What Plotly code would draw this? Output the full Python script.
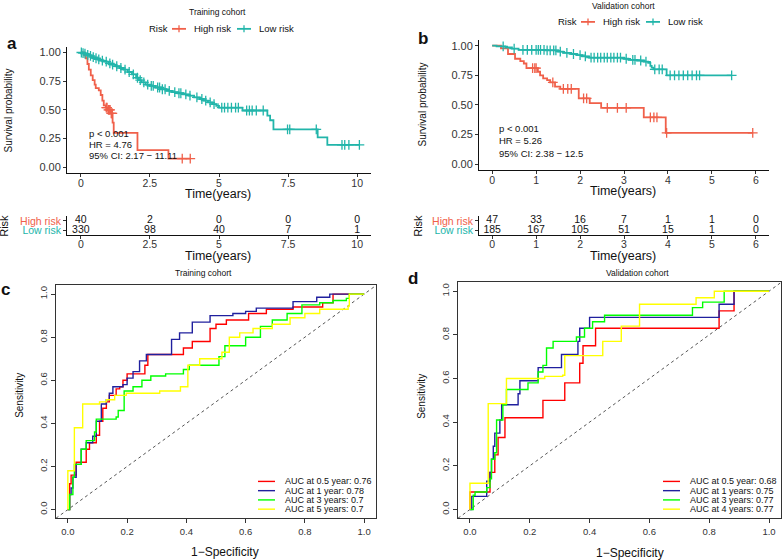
import plotly.graph_objects as go

W, H = 783, 560
RED_KM = "#F0604A"
CYAN_KM = "#22B5AA"

# ---- panel a: training cohort, Kaplan-Meier (event times / survival after event)
a_high_t = [0.12, 0.18, 0.24, 0.29, 0.36, 0.43, 0.50, 0.54, 0.65, 0.72, 0.78, 0.83,
            0.90, 0.97, 1.08, 1.15, 1.19, 2.05, 3.17]
a_high_s = [0.975, 0.95, 0.90, 0.85, 0.80, 0.76, 0.72, 0.69, 0.67, 0.63, 0.58, 0.54,
            0.52, 0.50, 0.47, 0.39, 0.30, 0.15, 0.075]
a_high_cens = [0.92, 0.95, 1.00, 1.03, 1.06, 1.10, 1.12, 1.14, 3.67, 3.96]

a_low_t = [0.05, 0.1, 0.2, 0.3, 0.4, 0.5, 0.6, 0.7, 0.85, 1.0, 1.1, 1.25, 1.4, 1.55,
           1.7, 1.85, 2.0, 2.1, 2.2, 2.35, 2.5, 2.7, 2.9, 3.1, 3.3, 3.5, 3.7, 3.9,
           4.1, 4.3, 4.45, 4.6, 4.75, 4.9, 5.0, 5.85, 6.75, 6.85, 6.97, 8.57, 8.92]
a_low_s = [0.995, 0.99, 0.98, 0.97, 0.96, 0.95, 0.94, 0.93, 0.92, 0.905, 0.895, 0.88,
           0.865, 0.85, 0.83, 0.81, 0.78, 0.76, 0.74, 0.72, 0.71, 0.695, 0.68, 0.665,
           0.655, 0.645, 0.635, 0.625, 0.61, 0.595, 0.58, 0.565, 0.55, 0.535, 0.52,
           0.495, 0.45, 0.41, 0.33, 0.26, 0.195]
a_low_cens = [0.02, 0.08, 0.15, 0.25, 0.35, 0.45, 0.55, 0.65, 0.78, 0.92, 1.05, 1.15,
              1.3, 1.45, 1.6, 1.75, 1.9, 2.05, 2.15, 2.28, 2.42, 2.55, 2.62, 2.78,
              2.85, 2.95, 3.05, 3.2, 3.4, 3.55, 3.62, 3.8, 3.95, 4.2, 4.38, 4.52,
              4.68, 4.82, 5.1, 5.2, 5.32, 5.45, 5.6, 5.7, 6.0, 6.1, 6.2, 6.35, 6.6,
              7.48, 7.56, 8.52, 9.45, 9.55, 9.7, 10.08]

# ---- panel b: validation cohort, Kaplan-Meier
b_high_t = [0.2, 0.36, 0.52, 0.64, 0.72, 0.78, 1.04, 1.09, 1.16, 1.25, 1.32, 1.43,
            1.55, 1.97, 2.22, 2.48, 3.45, 3.95]
b_high_s = [0.978, 0.93, 0.89, 0.87, 0.85, 0.81, 0.78, 0.75, 0.725, 0.71, 0.69, 0.655,
            0.635, 0.555, 0.515, 0.475, 0.395, 0.265]
b_high_cens = [0.92, 0.97, 1.0, 1.38, 1.62, 1.72, 1.8, 2.08, 2.15, 2.62, 2.85, 3.05,
               3.6, 3.68, 3.75, 3.97, 5.93]

b_low_t = [0.1, 0.3, 0.45, 0.6, 1.2, 1.5, 1.62, 1.8, 1.93, 2.05, 2.2, 3.0, 3.1, 3.3,
           3.45, 3.55, 3.6, 3.63, 3.67, 3.97]
b_low_s = [0.995, 0.985, 0.975, 0.965, 0.96, 0.95, 0.94, 0.93, 0.92, 0.91, 0.90, 0.89,
           0.88, 0.875, 0.865, 0.855, 0.83, 0.815, 0.80, 0.75]
b_low_cens = [0.25, 0.5, 0.7, 0.8, 0.9, 1.0, 1.05, 1.1, 1.18, 1.25, 1.32, 1.4, 1.45,
              1.55, 1.7, 1.85, 2.0, 2.12, 2.25, 2.32, 2.4, 2.47, 2.55, 2.62, 2.7, 2.77,
              2.85, 2.92, 3.05, 3.2, 3.25, 3.38, 3.5, 3.7, 3.8, 3.87, 4.05, 4.15, 4.25,
              4.35, 4.45, 4.55, 4.65, 4.72, 5.45]

# ---- numbers at risk
a_table_t = [0, 2.5, 5, 7.5, 10]
a_high_n = [40, 2, 0, 0, 0]
a_low_n = [330, 98, 40, 7, 1]
b_table_t = [0, 1, 2, 3, 4, 5, 6]
b_high_n = [47, 33, 16, 7, 1, 1, 0]
b_low_n = [185, 167, 105, 51, 15, 1, 0]

# ---- panel c: training cohort, time-dependent ROC
c_labels = ["0.5 year", "1 year", "3 years", "5 years"]
c_auc = ["0.76", "0.78", "0.7", "0.7"]
c_fpr = [
    [0, 0.006, 0.011, 0.028, 0.062, 0.073, 0.096, 0.107, 0.118, 0.13, 0.14, 0.163, 0.175,
     0.186, 0.2, 0.26, 0.27, 0.39, 0.42, 0.48, 0.50, 0.535, 0.61, 0.67, 0.76, 0.86, 0.895, 1.0],
    [0, 0.006, 0.011, 0.017, 0.028, 0.045, 0.062, 0.084, 0.096, 0.113, 0.13, 0.14, 0.152,
     0.186, 0.2, 0.22, 0.242, 0.265, 0.35, 0.377, 0.42, 0.48, 0.557, 0.6, 0.636, 0.76, 0.84,
     0.884, 1.0],
    [0, 0.006, 0.017, 0.022, 0.045, 0.062, 0.09, 0.096, 0.163, 0.17, 0.19, 0.22, 0.25, 0.28,
     0.33, 0.39, 0.41, 0.51, 0.53, 0.60, 0.65, 0.69, 0.74, 0.79, 0.85, 0.895, 0.94, 0.95, 1.0],
    [0, 0, 0.022, 0.05, 0.107, 0.13, 0.158, 0.197, 0.31, 0.38, 0.405, 0.405, 0.445, 0.52,
     0.545, 0.58, 0.625, 0.69, 0.75, 0.80, 0.85, 0.946, 0.95, 1.0],
]
c_tpr = [
    [0, 0.12, 0.16, 0.22, 0.28, 0.31, 0.345, 0.41, 0.47, 0.50, 0.53, 0.56, 0.57, 0.60, 0.63,
     0.67, 0.72, 0.75, 0.78, 0.84, 0.86, 0.88, 0.91, 0.93, 0.94, 0.96, 1.0, 1.0],
    [0, 0.07, 0.10, 0.15, 0.21, 0.28, 0.31, 0.34, 0.41, 0.49, 0.51, 0.54, 0.57, 0.58, 0.61,
     0.64, 0.69, 0.72, 0.79, 0.82, 0.87, 0.90, 0.91, 0.92, 0.935, 0.965, 0.985, 1.0, 1.0],
    [0, 0.07, 0.15, 0.21, 0.28, 0.32, 0.36, 0.42, 0.43, 0.46, 0.55, 0.57, 0.60, 0.62, 0.63,
     0.65, 0.67, 0.71, 0.76, 0.80, 0.85, 0.88, 0.91, 0.95, 0.96, 0.97, 0.98, 1.0, 1.0],
    [0, 0.18, 0.38, 0.49, 0.50, 0.51, 0.53, 0.54, 0.55, 0.57, 0.58, 0.67, 0.70, 0.73, 0.80,
     0.82, 0.84, 0.86, 0.89, 0.91, 0.93, 0.945, 1.0, 1.0],
]

# ---- panel d: validation cohort, time-dependent ROC
d_labels = ["0.5 year", "1 years", "3 years", "4 years"]
d_auc = ["0.68", "0.75", "0.77", "0.77"]
d_fpr = [
    [0, 0, 0.067, 0.083, 0.094, 0.117, 0.244, 0.317, 0.367, 0.378, 0.42, 0.833, 0.883, 1.0],
    [0, 0.006, 0.056, 0.067, 0.072, 0.078, 0.083, 0.1, 0.106, 0.161, 0.167, 0.228, 0.306,
     0.361, 0.367, 0.40, 0.833, 0.883, 1.0],
    [0, 0.011, 0.017, 0.056, 0.067, 0.072, 0.083, 0.089, 0.11, 0.122, 0.194, 0.228, 0.244,
     0.256, 0.278, 0.356, 0.383, 0.41, 0.45, 0.744, 0.778, 0.85, 1.0],
    [0, 0, 0.061, 0.122, 0.25, 0.31, 0.317, 0.444, 0.506, 0.567, 0.756, 0.817, 1.0],
]
d_tpr = [
    [0, 0.08, 0.17, 0.25, 0.33, 0.42, 0.50, 0.58, 0.67, 0.75, 0.83, 0.91, 1.0, 1.0],
    [0, 0.06, 0.13, 0.17, 0.23, 0.29, 0.35, 0.41, 0.48, 0.53, 0.59, 0.65, 0.71, 0.77, 0.83,
     0.88, 0.94, 1.0, 1.0],
    [0, 0.065, 0.08, 0.10, 0.14, 0.23, 0.26, 0.41, 0.48, 0.55, 0.58, 0.63, 0.66, 0.74, 0.77,
     0.79, 0.83, 0.86, 0.89, 0.925, 0.95, 1.0, 1.0],
    [0, 0.12, 0.485, 0.60, 0.61, 0.615, 0.705, 0.77, 0.84, 0.94, 0.97, 1.0, 1.0],
]
roc_colors = ["#FF0000", "#20209E", "#00FF00", "#FFFF00"]


def px(x):
    return x / W


def py(y):
    return 1 - y / H


def surv_at(t, ev_t, ev_s):
    s = 1.0
    for et, es in zip(ev_t, ev_s):
        if et <= t:
            s = es
    return s


def km_traces(ev_t, ev_s, cens, color, xa, ya):
    end = max(ev_t + cens)
    line = go.Scatter(
        x=[0] + ev_t + [end],
        y=[1] + ev_s + [surv_at(end, ev_t, ev_s)],
        mode="lines",
        line=dict(color=color, width=1.8, shape="hv"),
        xaxis=xa, yaxis=ya, showlegend=False, hoverinfo="skip",
    )
    marks = go.Scatter(
        x=cens, y=[surv_at(c, ev_t, ev_s) for c in cens], mode="markers",
        marker=dict(symbol="cross-thin", size=7, line=dict(width=1.3, color=color)),
        xaxis=xa, yaxis=ya, showlegend=False,
    )
    return [line, marks]


fig = go.Figure()

for ev_t, ev_s, cens, col, xa, ya in [
    (a_high_t, a_high_s, a_high_cens, RED_KM, "x", "y"),
    (a_low_t, a_low_s, a_low_cens, CYAN_KM, "x", "y"),
    (b_high_t, b_high_s, b_high_cens, RED_KM, "x2", "y2"),
    (b_low_t, b_low_s, b_low_cens, CYAN_KM, "x2", "y2"),
]:
    for tr in km_traces(ev_t, ev_s, cens, col, xa, ya):
        fig.add_trace(tr)

# risk tables
for t, hi, lo, xa, ya in [(a_table_t, a_high_n, a_low_n, "x3", "y3"),
                          (b_table_t, b_high_n, b_low_n, "x4", "y4")]:
    fig.add_trace(go.Scatter(
        x=t + t, y=[2] * len(t) + [1] * len(t), mode="text",
        text=[str(v) for v in hi + lo],
        textfont=dict(size=10.5, color="#111"),
        xaxis=xa, yaxis=ya, showlegend=False, hoverinfo="skip", cliponaxis=False,
    ))

# ROC curves
for fprs, tprs, xa, ya in [(c_fpr, c_tpr, "x5", "y5"), (d_fpr, d_tpr, "x6", "y6")]:
    fig.add_trace(go.Scatter(
        x=[-0.04, 1.04], y=[-0.04, 1.04], mode="lines",
        line=dict(color="#555", width=1, dash="dot"),
        xaxis=xa, yaxis=ya, showlegend=False, hoverinfo="skip",
    ))
    for f, s, col in zip(fprs, tprs, roc_colors):
        fig.add_trace(go.Scatter(
            x=f, y=s, mode="lines", line=dict(color=col, width=1.4, shape="hv"),
            xaxis=xa, yaxis=ya, showlegend=False,
        ))

km_axis = dict(showline=True, linecolor="#111", linewidth=1, ticks="outside",
               ticklen=3, tickcolor="#333", showgrid=False, zeroline=False,
               tickfont=dict(size=11, color="#333"))
km_x = dict(km_axis, ticklabelstandoff=-3, tickfont=dict(size=10.5, color="#333"))
roc_axis = dict(showline=True, mirror=True, linecolor="#333", linewidth=1,
                ticks="outside", ticklen=4, tickcolor="#333", showgrid=False,
                zeroline=False, range=[-0.04, 1.04], tickvals=[0, 0.2, 0.4, 0.6, 0.8, 1.0],
                tickformat=".1f", tickfont=dict(size=9.5, color="#333"))

a_dom = [px(67), px(371)]
b_dom = [px(479), px(769)]
table_dom = [py(235), py(216)]
a_ticks = dict(tickvals=a_table_t, ticktext=["0", "2.5", "5", "7.5", "10"])
risk_ticks = dict(
    tickvals=[1, 2],
    ticktext=[f"<span style='color:{CYAN_KM}'>Low risk</span>",
              f"<span style='color:{RED_KM}'>High risk</span>"],
)

fig.update_layout(
    width=W, height=H,
    margin=dict(l=0, r=0, t=0, b=0),
    paper_bgcolor="white", plot_bgcolor="white",
    showlegend=False,
    font=dict(family="Liberation Sans, Arial, sans-serif", color="#222"),
    xaxis=dict(km_x, domain=a_dom, range=[-0.5, 10.5], anchor="y", **a_ticks),
    yaxis=dict(km_axis, domain=[py(173), py(46)], range=[-0.05, 1.05], anchor="x",
               tickvals=[0, 0.25, 0.5, 0.75, 1.0], tickformat=".2f"),
    xaxis2=dict(km_x, domain=b_dom, range=[-0.3, 6.3], anchor="y2", tickvals=b_table_t),
    yaxis2=dict(km_axis, domain=[py(170), py(39)], range=[-0.05, 1.05], anchor="x2",
                tickvals=[0, 0.25, 0.5, 0.75, 1.0], tickformat=".2f"),
    xaxis3=dict(km_x, domain=a_dom, range=[-0.5, 10.5], anchor="y3", **a_ticks),
    yaxis3=dict(km_axis, domain=table_dom, range=[0.6, 2.5], anchor="x3",
                tickfont=dict(size=10.5), **risk_ticks),
    xaxis4=dict(km_x, domain=b_dom, range=[-0.3, 6.3], anchor="y4", tickvals=b_table_t),
    yaxis4=dict(km_axis, domain=table_dom, range=[0.6, 2.5], anchor="x4",
                tickfont=dict(size=10.5), **risk_ticks),
    xaxis5=dict(roc_axis, domain=[px(56), px(376)], anchor="y5"),
    yaxis5=dict(roc_axis, domain=[py(520), py(286)], anchor="x5", tickangle=-90),
    xaxis6=dict(roc_axis, domain=[px(458), px(781)], anchor="y6"),
    yaxis6=dict(roc_axis, domain=[py(520), py(283)], anchor="x6", tickangle=-90),
)


def note(x, y, text, size, anchor="center", angle=0, bold=False):
    fig.add_annotation(
        x=px(x), y=py(y), xref="paper", yref="paper", text=f"<b>{text}</b>" if bold else text,
        showarrow=False, xanchor=anchor, yanchor="middle", textangle=angle,
        font=dict(size=size, color="#111"),
    )


def hline(x0, x1, y, color, width=1.5):
    fig.add_shape(type="line", xref="paper", yref="paper", x0=px(x0), x1=px(x1),
                  y0=py(y), y1=py(y), line=dict(color=color, width=width))


# KM legends: "Risk", line key with censor cross, group name
for x0, y in [(147, 28), (556, 21)]:
    note(x0, y, "Risk", 9.5, anchor="left")
    for dx, col, name in [(25, RED_KM, "High risk"), (90, CYAN_KM, "Low risk")]:
        hline(x0 + dx, x0 + dx + 14, y, col, 1.8)
        fig.add_shape(type="line", xref="paper", yref="paper",
                      x0=px(x0 + dx + 7), x1=px(x0 + dx + 7), y0=py(y - 3.5), y1=py(y + 3.5),
                      line=dict(color=col, width=1.3))
        note(x0 + dx + 20, y, name, 9.5, anchor="left")

# titles, panel letters, axis titles
note(218, 11, "Training cohort", 8.5)
note(623, 5, "Validation cohort", 8.5)
note(203, 273, "Training cohort", 8.5)
note(637, 273, "Validation cohort", 8.5)
note(12, 43, "a", 17, bold=True)
note(423, 38, "b", 17, bold=True)
note(5, 290, "c", 17, bold=True)
note(413, 279, "d", 17, bold=True)

for x, y in [(218, 194), (623, 191), (218, 256), (623, 256)]:
    note(x, y, "Time(years)", 12.5)
for x, y in [(8, 110), (422, 104)]:
    note(x, y, "Survival probability", 10, angle=-90)
for x, y in [(4, 226), (418, 226)]:
    note(x, y, "Risk", 11, angle=-90)
for x, y in [(20, 397), (422, 397)]:
    note(x, y, "Sensitivity", 10, angle=-90)
note(225, 554, "1\u2212Specificity", 12)
note(630, 555, "1\u2212Specificity", 12)

# statistics text
for i, t in enumerate(["p < 0.001", "HR = 4.76", "95% CI: 2.17 \u2212 11.11"]):
    note(87, 133 + 11 * i, t, 9.5, anchor="left")
for i, t in enumerate(["p < 0.001", "HR = 5.26", "95% CI: 2.38 \u2212 12.5"]):
    note(497, 128 + 12.5 * i, t, 9.5, anchor="left")

# ROC legends
for x0, labels, aucs in [(258, c_labels, c_auc), (663, d_labels, d_auc)]:
    for i, (lab, auc, col) in enumerate(zip(labels, aucs, roc_colors)):
        y = 483 + 9.3 * i
        hline(x0, x0 + 17, y, col, 1.4)
        note(x0 + 25, y, f"AUC at {lab}: {auc}", 9, anchor="left")

fig.write_html("out.html", config={"displayModeBar": False},
               post_script="document.body.style.margin='0';")
